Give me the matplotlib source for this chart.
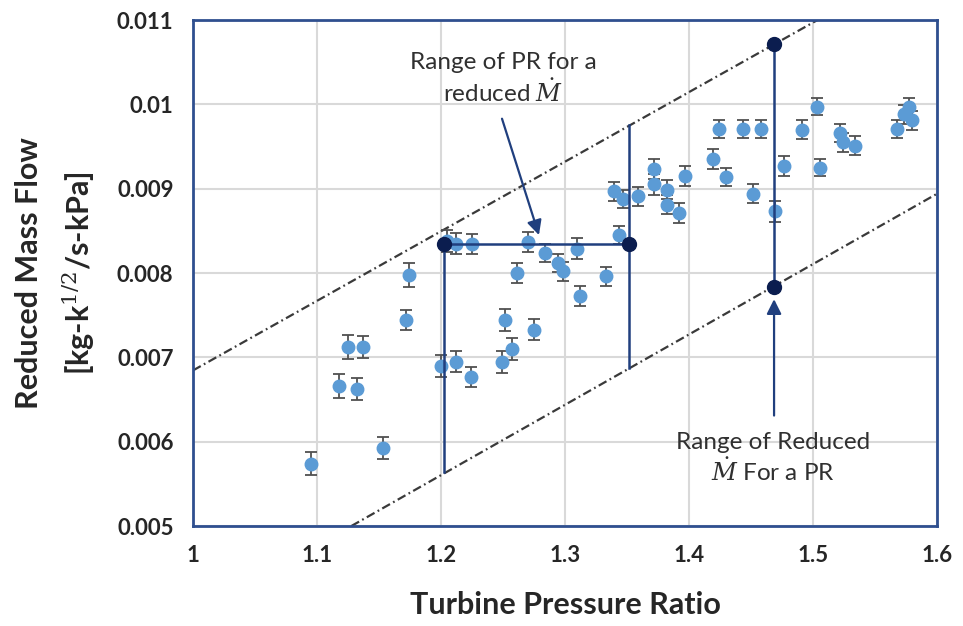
import matplotlib
matplotlib.use('Agg')
import matplotlib.pyplot as plt  # noqa E402

plt.rcParams['font.family'] = ['Lato', 'DejaVu Sans']
plt.rcParams['mathtext.fontset'] = 'dejavuserif'

# measured points: pressure ratio, reduced mass flow, error
pr = [1.095, 1.118, 1.125, 1.132, 1.137, 1.153, 1.172, 1.174, 1.200, 1.205,
      1.212, 1.212, 1.224, 1.225, 1.249, 1.252, 1.2575, 1.261, 1.270, 1.275,
      1.284, 1.294, 1.298, 1.310, 1.312, 1.333, 1.3395, 1.3435, 1.347, 1.359,
      1.372, 1.372, 1.382, 1.382, 1.392, 1.3965, 1.419, 1.424, 1.4296, 1.4435,
      1.452, 1.458, 1.469, 1.4766, 1.491, 1.503, 1.506, 1.522, 1.524, 1.534,
      1.5675, 1.5735, 1.5775, 1.580]
mflow = [0.00574, 0.00666, 0.00712, 0.00662, 0.00712, 0.00593, 0.00744, 0.00798,
         0.00690, 0.00838, 0.00835, 0.00695, 0.00677, 0.00834, 0.00695, 0.00744,
         0.00710, 0.00800, 0.00837, 0.00733, 0.00824, 0.00812, 0.00802, 0.00829,
         0.00773, 0.00796, 0.00897, 0.00845, 0.00888, 0.00891, 0.00923, 0.00905,
         0.00899, 0.00881, 0.00871, 0.00915, 0.00935, 0.00971, 0.00914, 0.00971,
         0.00894, 0.00971, 0.00873, 0.00927, 0.00970, 0.00997, 0.00925, 0.00966,
         0.00955, 0.00951, 0.00971, 0.00988, 0.00997, 0.00981]
err = [0.00014, 0.00014, 0.00014, 0.00013, 0.00013, 0.00013, 0.00012, 0.00014,
       0.00013, 0.00013, 0.00012, 0.00012, 0.00012, 0.00012, 0.00013, 0.00013,
       0.00013, 0.00012, 0.00012, 0.00012, 0.00011, 0.00011, 0.00011, 0.00012,
       0.00012, 0.00011, 0.00011, 0.00011, 0.00011, 0.00011, 0.00012, 0.00012,
       0.00011, 0.00011, 0.00012, 0.00012, 0.00012, 0.00011, 0.00011, 0.00011,
       0.00011, 0.00011, 0.00013, 0.00012, 0.00011, 0.00010, 0.00010, 0.00011,
       0.00011, 0.00011, 0.00011, 0.00011, 0.00011, 0.00011]

# operating band boundaries (dash-dot)
upper_x = [1.0, 1.5036]
upper_y = [0.006845, 0.011]
lower_x = [1.1277, 1.6]
lower_y = [0.005, 0.00894]

# range of PR for a given reduced mass flow
pr_lo, pr_hi, m_level = 1.2024, 1.3516, 0.00835
pr_lo_bottom = 0.00564
pr_hi_top, pr_hi_bottom = 0.00975, 0.00687
# range of reduced mass flow for a given PR
pr_fixed, m_top, m_bottom = 1.4686, 0.01071, 0.00783

navy = '#203F7E'
dark_dot = '#0B1D4F'
dashdot = (0, (4, 1.6, 0.8, 1.6))

fig = plt.figure(figsize=(9.63, 6.26), dpi=100)
ax = fig.add_axes([0.2004, 0.1597, 0.7726, 0.8083])

ax.plot(upper_x, upper_y, color='#3A3A3A', lw=1.6, ls=dashdot, zorder=2)
ax.plot(lower_x, lower_y, color='#3A3A3A', lw=1.6, ls=dashdot, zorder=2)

ax.errorbar(pr, mflow, yerr=err, fmt='o', color='#5B9BD5', ms=9,
            ecolor='#505050', elinewidth=1.3, capsize=4, capthick=1.3, zorder=3)

ax.plot([pr_lo, pr_lo], [pr_lo_bottom, m_level], color=navy, lw=1.8, zorder=4)
ax.plot([pr_hi, pr_hi], [pr_hi_bottom, pr_hi_top], color=navy, lw=1.8, zorder=4)
ax.plot([pr_lo, pr_hi], [m_level, m_level], color=navy, lw=1.8, zorder=4)
ax.plot([pr_fixed, pr_fixed], [m_bottom, m_top], color=navy, lw=1.8, zorder=4)
ax.plot([pr_lo, pr_hi, pr_fixed, pr_fixed], [m_level, m_level, m_top, m_bottom],
        'o', color=dark_dot, ms=10, zorder=5)

ax.annotate('', xy=(1.279, 0.00845), xytext=(1.2492, 0.00983),
            arrowprops=dict(arrowstyle='-|>', color=navy, lw=1.6,
                            mutation_scale=22, shrinkA=0, shrinkB=0), zorder=6)
ax.annotate('', xy=(pr_fixed, 0.00769), xytext=(pr_fixed, 0.00631),
            arrowprops=dict(arrowstyle='-|>', color=navy, lw=1.6,
                            mutation_scale=22, shrinkA=0, shrinkB=0), zorder=6)

ax.text(1.2505, 0.01030, 'Range of PR for a\nreduced $\\dot{M}$', ha='center',
        va='center', fontsize=17.5, color='#303030', linespacing=1.2)
ax.text(1.4677, 0.00580, 'Range of Reduced\n$\\dot{M}$ For a PR', ha='center',
        va='center', fontsize=17.5, color='#303030', linespacing=1.2)

ax.set_xlim(1.0, 1.6)
ax.set_ylim(0.005, 0.011)
ax.set_xticks([1.0, 1.1, 1.2, 1.3, 1.4, 1.5, 1.6])
ax.set_xticklabels(['1', '1.1', '1.2', '1.3', '1.4', '1.5', '1.6'])
ax.set_yticks([0.005, 0.006, 0.007, 0.008, 0.009, 0.010, 0.011])
ax.set_yticklabels(['0.005', '0.006', '0.007', '0.008', '0.009', '0.01', '0.011'])
ax.tick_params(length=0, labelsize=16, pad=14, labelcolor='#262626')
for lab in ax.get_xticklabels() + ax.get_yticklabels():
    lab.set_fontweight('bold')

ax.grid(True, color='#D9D9D9', lw=1.5, zorder=0)
ax.set_axisbelow(True)
for sp in ax.spines.values():
    sp.set_color('#2F4F8F')
    sp.set_linewidth(2)

ax.set_xlabel('Turbine Pressure Ratio', fontsize=22, fontweight='bold',
              color='#262626', labelpad=18)
ax.set_ylabel('Reduced Mass Flow\n[kg-k$^{1/2}$/s-kPa]', fontsize=22,
              fontweight='bold', color='#262626', labelpad=14, linespacing=1.55)

fig.savefig('out.png', dpi=100)
